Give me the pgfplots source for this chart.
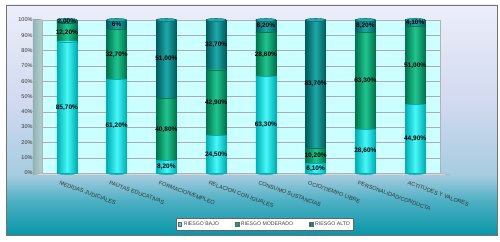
\documentclass[border=0pt]{standalone}
\usepackage{pgfplots}
\pgfplotsset{compat=1.18}
\usepackage{fontspec}
\setmainfont{Liberation Sans}
\definecolor{bgA}{HTML}{0896A8}
\definecolor{bgB}{HTML}{4FB0C4}
\definecolor{bgC}{HTML}{A6CCE0}
\definecolor{bgD}{HTML}{D2DAF0}
\definecolor{bgE}{HTML}{ECEEF9}
\definecolor{bajoE}{HTML}{00AEB4}
\definecolor{bajoM}{HTML}{48F8F8}
\definecolor{modE}{HTML}{00744C}
\definecolor{modM}{HTML}{20C490}
\definecolor{altoE}{HTML}{005C5E}
\definecolor{altoM}{HTML}{1EA8A8}
\definecolor{wallc}{HTML}{CCFFFF}
\pgfdeclareverticalshading{bgshade}{100bp}{color(0bp)=(bgA); color(25bp)=(bgA); color(32.6bp)=(bgB); color(38bp)=(bgC); color(54bp)=(bgD); color(75bp)=(bgE); color(100bp)=(bgE)}
\makeatletter
\newcommand\newstack{\pgfplots@stacked@isfirstplottrue}
\makeatother
\pgfplotsset{
  bajo/.style={draw=bajoE, line width=0.4pt, left color=bajoE, right color=bajoE, middle color=bajoM},
  mod/.style={draw=modE, line width=0.4pt, left color=modE, right color=modE, middle color=modM},
  alto/.style={draw=altoE, line width=0.4pt, left color=altoE, right color=altoE, middle color=altoM},
}
\begin{document}
\begin{tikzpicture}
\useasboundingbox (0pt,0pt) rectangle (500pt,241pt);
\shade[shading=bgshade] (6pt,6pt) rectangle (497pt,236pt);
\draw[black!55, line width=0.8pt] (6pt,6pt) rectangle (497pt,236pt);
% left wall and floor
\fill[left color=gray!55!teal!60, right color=gray!30!teal!35] (33pt,222pt) -- (42pt,221pt) -- (42pt,68pt) -- (33pt,66pt) -- cycle;
\draw[gray!70, line width=0.3pt] (33pt,222pt) -- (42pt,221pt) -- (42pt,68pt) -- (33pt,66pt) -- cycle;
\fill[gray!25] (33pt,66pt) -- (42pt,68pt) -- (440pt,68pt) -- (450pt,66pt) -- cycle;
\draw[gray!70, line width=0.3pt] (33pt,66pt) -- (42pt,68pt) -- (440pt,68pt) -- (450pt,66pt) -- cycle;
\pgfplotsset{myaxis/.style={at={(42pt,68pt)}, anchor=south west, scale only axis,
  width=398pt, height=153pt, xmin=-0.5, xmax=7.5, ymin=0, ymax=100}}
% bottom ellipses of cylinders
\begin{axis}[myaxis, axis lines=none, ticks=none, clip=false]
\addplot[only marks, mark=*, mark size=10pt, mark options={yscale=0.16, fill=bajoE, draw=bajoE}]
 coordinates {(0,0) (1,0) (2,0) (3,0) (4,0) (5,0) (6,0) (7,0)};
\end{axis}
\begin{axis}[myaxis,
  ybar stacked, bar width=20pt,
  axis background/.style={fill=wallc},
  axis line style={draw=gray!60},
  ymajorgrids, grid style={gray!65, line width=0.4pt},
  ytick={0,10,...,100},
  yticklabel={\pgfmathprintnumber{\tick}\%},
  /pgf/number format/assume math mode=true,
  yticklabel style={font=\fontsize{5.5}{6}\selectfont, xshift=-6pt, text=black!80},
  xtick={0,...,7},
  xticklabels={MEDIDAS JUDICIALES, PAUTAS EDUCATIVAS, FORMACION/EMPLEO, RELACION CON IGUALES, CONSUMO SUSTANCIAS, OCIO/TIEMPO LIBRE, PERSONALIDAD/CONDUCTA, ACTITUDES Y VALORES},
  xticklabel style={font=\fontsize{5.6}{6}\selectfont, rotate=-20, anchor=north west, xshift=-7pt, yshift=-6pt, text=black!80},
  major tick length=0pt,
  legend style={at={(0.56,-0.335)}, anchor=center, legend columns=3, draw=black!60, fill=white,
    font=\fontsize{5.2}{6}\selectfont, text=black!75, inner sep=1.6pt,
    /tikz/every even column/.append style={column sep=14pt}},
  legend image code/.code={\draw[#1, draw=black!60, line width=0.3pt] (0pt,-1.8pt) rectangle (3.6pt,1.8pt);},
  ]
\newstack
\addplot[bajo] coordinates {(0,85.7)};
\addplot[mod] coordinates {(0,12.2)};
\addplot[alto] coordinates {(0,2.0)};
\newstack
\addplot[bajo, forget plot] coordinates {(1,61.2)};
\addplot[mod, forget plot] coordinates {(1,32.7)};
\addplot[alto, forget plot] coordinates {(1,6.0)};
\newstack
\addplot[bajo, forget plot] coordinates {(2,8.2)};
\addplot[mod, forget plot] coordinates {(2,40.8)};
\addplot[alto, forget plot] coordinates {(2,51.0)};
\newstack
\addplot[bajo, forget plot] coordinates {(3,24.5)};
\addplot[mod, forget plot] coordinates {(3,42.9)};
\addplot[alto, forget plot] coordinates {(3,32.7)};
\newstack
\addplot[bajo, forget plot] coordinates {(4,63.3)};
\addplot[mod, forget plot] coordinates {(4,28.6)};
\addplot[alto, forget plot] coordinates {(4,8.2)};
\newstack
\addplot[bajo, forget plot] coordinates {(5,6.1)};
\addplot[mod, forget plot] coordinates {(5,10.2)};
\addplot[alto, forget plot] coordinates {(5,83.7)};
\newstack
\addplot[bajo, forget plot] coordinates {(6,28.6)};
\addplot[mod, forget plot] coordinates {(6,63.3)};
\addplot[alto, forget plot] coordinates {(6,8.2)};
\newstack
\addplot[bajo, forget plot] coordinates {(7,44.9)};
\addplot[mod, forget plot] coordinates {(7,51.0)};
\addplot[alto, forget plot] coordinates {(7,4.1)};
\legend{RIESGO BAJO, RIESGO MODERADO, RIESGO ALTO}
\end{axis}
% caps and labels
\begin{axis}[myaxis, axis lines=none, ticks=none, clip=false]
\addplot[only marks, mark=*, mark size=10pt, mark options={yscale=0.16, fill=altoM, draw=altoE, line width=0.4pt}]
 coordinates {(0,100) (1,100) (2,100) (3,100) (4,100) (5,100) (6,100) (7,100)};
\addplot[draw=none, nodes near coords, point meta=explicit symbolic,
  every node near coord/.append style={anchor=center, font=\bfseries\fontsize{6.5}{7}\selectfont, text=black, inner sep=0pt}]
 table[meta=label] {
x y label
0 42.85 85,70\%
0 91.8 12,20\%
0 98.9 2,00\%
1 30.6 61,20\%
1 77.55 32,70\%
1 96.95 6\%
2 4.1 8,20\%
2 28.6 40,80\%
2 74.5 51,00\%
3 12.25 24,50\%
3 45.95 42,90\%
3 83.75 32,70\%
4 31.65 63,30\%
4 77.6 28,60\%
4 96.0 8,20\%
5 3.05 6,10\%
5 11.2 10,20\%
5 58.15 83,70\%
6 14.3 28,60\%
6 60.25 63,30\%
6 96.0 8,20\%
7 22.45 44,90\%
7 70.4 51,00\%
7 97.95 4,10\%
};
\end{axis}
\end{tikzpicture}
\end{document}
